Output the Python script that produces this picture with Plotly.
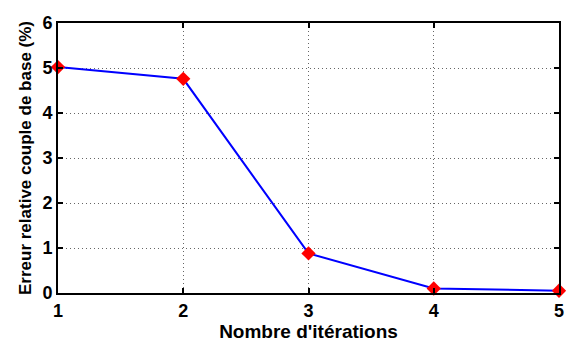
import plotly.graph_objects as go

iterations = [1, 2, 3, 4, 5]
erreur = [5.02, 4.76, 0.88, 0.10, 0.05]
x_ticks = [1, 2, 3, 4, 5]
y_ticks = [0, 1, 2, 3, 4, 5, 6]

fig = go.Figure()
fig.add_trace(go.Scatter(
    x=iterations, y=erreur, mode="lines+markers",
    line=dict(color="#0000ff", width=2),
    marker=dict(symbol="diamond", color="#ff0000", size=11, line=dict(width=0)),
    cliponaxis=False,
))

FAM = "Liberation Sans, Arial, sans-serif"
fig.update_layout(
    width=567, height=343,
    margin=dict(l=58, r=8, t=23, b=50, autoexpand=False),
    paper_bgcolor="white", plot_bgcolor="white",
    showlegend=False,
    font=dict(family=FAM, color="black"),
)
axis_common = dict(
    showline=True, linecolor="black", linewidth=2, mirror="ticks",
    ticks="inside", ticklen=5, tickwidth=1.5, tickcolor="black",
    showgrid=True, gridcolor="#666666", griddash="1px,3px", gridwidth=1,
    zeroline=False, automargin=False,
    tickfont=dict(family=FAM, size=18, color="black", weight="bold"),
)
fig.update_xaxes(range=[1, 5], tickvals=x_ticks, **axis_common,
                 title=dict(text="<b>Nombre d'itérations</b>", standoff=2,
                            font=dict(family=FAM, size=19, color="black")))
fig.update_yaxes(range=[0, 6], tickvals=y_ticks, **axis_common,
                 title=dict(text="<b>Erreur relative couple de base (%)</b>", standoff=6,
                            font=dict(family=FAM, size=17, color="black")))

fig.write_html("out.html", config={"displayModeBar": False},
               post_script="document.body.style.margin='0';document.body.style.overflow='hidden';")
